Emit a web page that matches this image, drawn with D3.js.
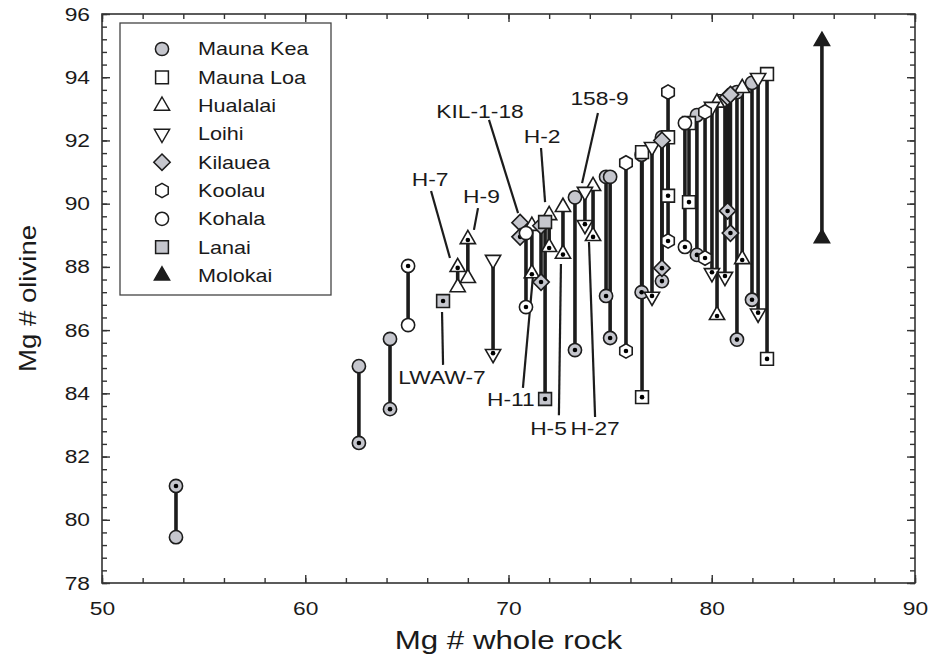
<!DOCTYPE html>
<html>
<head>
<meta charset="utf-8">
<script src="https://cdn.jsdelivr.net/npm/d3@7"></script>
<style>
  body { margin: 0; background: #fff; }
  text { font-family: "Liberation Sans", Arial, sans-serif; fill: #1a1a1a; }
</style>
</head>
<body>
<svg id="chart" width="930" height="660"></svg>
<script>
// Each sample: [whole-rock Mg#, olivine Mg# (open marker), equilibrium olivine Mg# (dotted marker)]
// null means that marker is not plotted.
const maunaKea = [
  [53.64, 79.45, 81.07],
  [62.64, 84.86, 82.43],
  [64.17, 85.72, 83.50],
  [73.27, 90.20, 85.37],
  [74.80, 90.85, 87.08],
  [75.00, 90.85, 85.75],
  [76.55, 91.55, 87.20],
  [77.55, 92.10, 87.55],
  [79.27, 92.80, 88.38],
  [81.24, 93.53, 85.70],
  [81.98, 93.82, 86.96]
];
const maunaLoa = [
  [76.57, 91.63, 83.88],
  [77.85, 92.10, 90.25],
  [78.88, 92.55, 90.05],
  [82.72, 94.10, 85.09]
];
const hualalai = [
  [67.50, 87.36, 88.00],
  [68.00, 87.65, 88.88],
  [71.15, 89.30, 87.80],
  [72.00, 89.64, 88.63],
  [72.68, 89.90, 88.42],
  [74.16, 90.56, 88.98],
  [80.26, 93.20, 86.48],
  [81.50, 93.66, 88.25]
];
const loihi = [
  [69.24, 88.22, 85.24],
  [73.76, 90.37, 89.32],
  [77.06, 91.79, 87.05],
  [80.01, 93.06, 87.80],
  [80.65, 93.30, 87.68],
  [82.28, 93.97, 86.52]
];
const kilauea = [
  [70.57, 89.40, 88.95],
  [71.60, 89.30, 87.52],
  [77.55, 92.00, 87.96],
  [80.78, 93.37, 89.77],
  [80.92, 93.45, 89.07]
];
const koolau = [
  [75.78, 91.29, 85.34],
  [77.85, 93.53, 88.82],
  [79.67, 92.90, 88.28]
];
const kohala = [
  [65.06, 86.16, 88.03],
  [70.86, 89.07, 86.73],
  [78.68, 92.55, 88.63]
];
const lanai = [
  [66.78, null, 86.92],
  [71.80, 89.42, 83.82]
];
// Molokai range: both ends shown as solid triangles
const molokai = [
  [85.42, 95.15, 88.91]
];

// Sample callouts: label anchor and leader line ends, in data units
const callouts = [
  { text: "KIL-1-18", at: [68.60, 92.71], from: [69.04, 92.65], to: [70.47, 89.70] },
  { text: "H-7",      at: [66.14, 90.56], from: [66.19, 90.40], to: [67.12, 88.28] },
  { text: "H-9",      at: [68.67, 90.02], from: [68.50, 89.86], to: [68.30, 89.17] },
  { text: "H-2",      at: [71.65, 91.92], from: [71.60, 91.76], to: [71.80, 90.05] },
  { text: "158-9",    at: [74.48, 93.12], from: [74.40, 92.87], to: [73.62, 90.65] },
  { text: "LWAW-7",   at: [66.73, 84.29], from: [66.73, 86.57], to: [66.78, 84.90] },
  { text: "H-11",     at: [70.12, 83.60], from: [70.71, 84.17], to: [71.20, 87.68] },
  { text: "H-5",      at: [71.97, 82.68], from: [72.48, 83.31], to: [72.58, 88.09] },
  { text: "H-27",     at: [74.26, 82.68], from: [74.26, 83.25], to: [73.96, 88.79] }
];

const xTicks = [50, 60, 70, 80, 90];
const yTicks = [78, 80, 82, 84, 86, 88, 90, 92, 94, 96];

const GRAY = "#c5c6cd";
const INK = "#1c1c1c";
const STRETCH = 1.2; // lettering is set slightly wide

const series = [
  { name: "Mauna Kea", shape: "circle",   fill: GRAY,   data: maunaKea },
  { name: "Mauna Loa", shape: "square",   fill: "#fff", data: maunaLoa },
  { name: "Hualalai",  shape: "triUp",    fill: "#fff", data: hualalai },
  { name: "Loihi",     shape: "triDown",  fill: "#fff", data: loihi },
  { name: "Kilauea",   shape: "diamond",  fill: GRAY,   data: kilauea },
  { name: "Koolau",    shape: "hexagon",  fill: "#fff", data: koolau },
  { name: "Kohala",    shape: "circle",   fill: "#fff", data: kohala },
  { name: "Lanai",     shape: "square",   fill: GRAY,   data: lanai },
  { name: "Molokai",   shape: "triUp",    fill: INK,    data: molokai, solid: true }
];

const svg = d3.select("#chart");
const M = { left: 102, right: 915, top: 14, bottom: 583 };
const x = d3.scaleLinear().domain([50, 90]).range([M.left, M.right]);
const y = d3.scaleLinear().domain([78, 96]).range([M.bottom, M.top]);

function shapePath(shape) {
  const p = d3.path();
  if (shape === "circle") {
    p.arc(0, 0, 6.6, 0, 2 * Math.PI);
  } else if (shape === "square") {
    p.rect(-6.4, -6.4, 12.8, 12.8);
  } else if (shape === "triUp") {
    p.moveTo(0, -8.6); p.lineTo(7.6, 4.6); p.lineTo(-7.6, 4.6); p.closePath();
  } else if (shape === "triDown") {
    p.moveTo(0, 8.6); p.lineTo(7.6, -4.6); p.lineTo(-7.6, -4.6); p.closePath();
  } else if (shape === "diamond") {
    p.moveTo(0, -8.2); p.lineTo(8.2, 0); p.lineTo(0, 8.2); p.lineTo(-8.2, 0); p.closePath();
  } else if (shape === "hexagon") {
    for (let k = 0; k < 6; k++) {
      const a = -Math.PI / 2 + k * Math.PI / 3;
      const px = 7.2 * Math.cos(a), py = 7.2 * Math.sin(a);
      if (k === 0) p.moveTo(px, py); else p.lineTo(px, py);
    }
    p.closePath();
  }
  return p.toString();
}

function stretchText(sel, cx, k = STRETCH) {
  sel.attr("transform", `translate(${cx},0) scale(${k},1) translate(${-cx},0)`);
}

// Frame and ticks
const axes = svg.append("g");
axes.append("rect")
  .attr("x", M.left).attr("y", M.top)
  .attr("width", M.right - M.left).attr("height", M.bottom - M.top)
  .attr("fill", "none").attr("stroke", "#333").attr("stroke-width", 1.6);

const xMinor = d3.range(50, 90.01, 2);
const yMinor = d3.range(78, 96.01, 0.4).map(v => +v.toFixed(1));

function tickAxis(gen, pos, transform, values, size, labels) {
  const g = axes.append("g").attr("transform", transform)
    .call(gen(pos).tickValues(values).tickSize(size).tickPadding(labels ? 20 : 0)
      .tickFormat(labels ? d3.format("d") : () => ""));
  g.select(".domain").remove();
  g.selectAll("line").attr("stroke", "#333").attr("stroke-width", 1.4);
  return g;
}

tickAxis(d3.axisBottom, x, `translate(0,${M.bottom})`, xMinor, -5, false);
tickAxis(d3.axisTop, x, `translate(0,${M.top})`, xMinor, -5, false);
tickAxis(d3.axisLeft, y, `translate(${M.left},0)`, yMinor, -5, false);
tickAxis(d3.axisRight, y, `translate(${M.right},0)`, yMinor, -5, false);
tickAxis(d3.axisTop, x, `translate(0,${M.top})`, xTicks, -8, false);
tickAxis(d3.axisRight, y, `translate(${M.right},0)`, yTicks, -8, false);

const xAx = tickAxis(d3.axisBottom, x, `translate(0,${M.bottom})`, xTicks, -8, true);
xAx.selectAll("text").attr("font-size", 19).attr("fill", "#1a1a1a")
  .attr("font-family", '"Liberation Sans", Arial, sans-serif')
  .attr("y", 19).each(function () { stretchText(d3.select(this), 0); });

const yAx = tickAxis(d3.axisLeft, y, `translate(${M.left},0)`, yTicks, -8, true);
yAx.selectAll("text").attr("font-size", 19).attr("fill", "#1a1a1a")
  .attr("font-family", '"Liberation Sans", Arial, sans-serif')
  .attr("x", -12).each(function () { stretchText(d3.select(this), -12); });

// Axis titles
const midX = (M.left + M.right) / 2;
svg.append("text")
  .attr("x", midX).attr("y", 649)
  .attr("text-anchor", "middle").attr("font-size", 25)
  .text("Mg # whole rock")
  .call(s => stretchText(s, midX, 1.25));

svg.append("text")
  .attr("transform", `translate(36,${(M.top + M.bottom) / 2}) rotate(-90) scale(${STRETCH},1)`)
  .attr("text-anchor", "middle").attr("font-size", 23)
  .text("Mg # olivine");

// Callout leaders and labels
const notes = svg.append("g");
notes.selectAll("line").data(callouts).join("line")
  .attr("x1", d => x(d.from[0])).attr("y1", d => y(d.from[1]))
  .attr("x2", d => x(d.to[0])).attr("y2", d => y(d.to[1]))
  .attr("stroke", INK).attr("stroke-width", 2.2);
notes.selectAll("text").data(callouts).join("text")
  .attr("x", d => x(d.at[0])).attr("y", d => y(d.at[1]))
  .attr("text-anchor", "middle").attr("font-size", 19)
  .text(d => d.text)
  .each(function (d) { stretchText(d3.select(this), x(d.at[0])); });

// Tie lines between olivine and equilibrium values
const tieData = series.flatMap(s => s.data
  .filter(d => d[1] != null && d[2] != null)
  .map(d => ({ s, d })));
svg.append("g").selectAll("line").data(tieData).join("line")
  .attr("x1", o => x(o.d[0])).attr("x2", o => x(o.d[0]))
  .attr("y1", o => y(o.d[1])).attr("y2", o => y(o.d[2]))
  .attr("stroke", INK).attr("stroke-width", 3.6);

// Markers
const marks = svg.append("g");
series.forEach(s => {
  const g = marks.append("g");
  const pts = [];
  s.data.forEach(d => {
    if (d[1] != null) pts.push({ x: d[0], y: d[1], dot: false });
    if (d[2] != null) pts.push({ x: d[0], y: d[2], dot: !s.solid });
  });
  const node = g.selectAll("g").data(pts).join("g")
    .attr("transform", p => `translate(${x(p.x)},${y(p.y)})`);
  node.append("path")
    .attr("d", shapePath(s.shape))
    .attr("fill", s.fill).attr("stroke", INK).attr("stroke-width", 1.6);
  node.filter(p => p.dot).append("circle")
    .attr("cy", s.shape === "triUp" ? 1 : (s.shape === "triDown" ? -1 : 0))
    .attr("r", 2.3).attr("fill", "#000");
});

// Legend
const legend = svg.append("g");
legend.append("rect")
  .attr("x", 120).attr("y", 23).attr("width", 211).attr("height", 272)
  .attr("fill", "#fff").attr("stroke", "#444").attr("stroke-width", 1.3);
const rows = legend.selectAll("g.row").data(series).join("g")
  .attr("class", "row")
  .attr("transform", (s, i) => `translate(0,${49 + i * 28.3})`);
rows.append("path")
  .attr("transform", "translate(162,0)")
  .attr("d", s => shapePath(s.shape))
  .attr("fill", s => s.fill).attr("stroke", INK).attr("stroke-width", 1.5);
rows.append("text")
  .attr("x", 198).attr("dy", "0.36em").attr("font-size", 18)
  .text(s => s.name)
  .each(function () { stretchText(d3.select(this), 198); });
</script>
</body>
</html>
